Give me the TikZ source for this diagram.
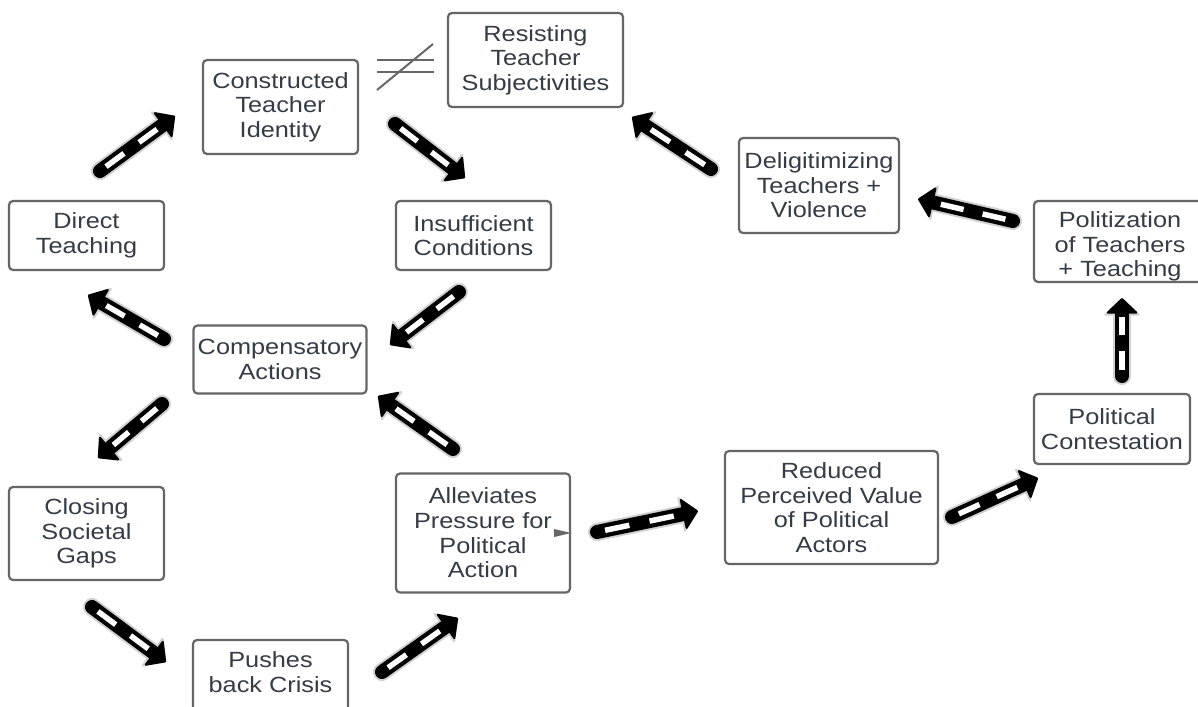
\documentclass[tikz,border=0pt]{standalone}
\usepackage{fontspec}
\setmainfont{Liberation Sans}[FakeStretch=1.15]
\usetikzlibrary{arrows.meta,calc}
\definecolor{boxline}{HTML}{666666}
\definecolor{txt}{HTML}{363C45}
\newcommand{\fatarr}[2]{%
  \draw[halo] (#1) -- (#2);
  \draw[shaft] (#1) -- (#2);
  \draw[stripe] ($(#1)!0.08!(#2)$) -- ($(#1)!0.32!(#2)$);
  \draw[stripe] ($(#1)!0.52!(#2)$) -- ($(#1)!0.76!(#2)$);}
\begin{document}
\begin{tikzpicture}[x=1pt,y=-1pt,
  box/.style={draw=boxline, line width=2.2pt, rounded corners=4pt, fill=white,
    text=txt, align=center, font=\fontsize{22}{24.6}\selectfont, inner sep=0pt},
  label text/.style={text=txt, align=center, font=\fontsize{22}{24.6}\selectfont, inner sep=0pt},
  shaft/.style={black, line width=14pt, line cap=round,
    -{Triangle[length=16pt,width=33pt,line width=2pt,round]}},
  halo/.style={black!18, line width=18pt, line cap=round,
    -{Triangle[length=18pt,width=38pt,line width=2pt,round]}},
  stripe/.style={white, line width=5.5pt, line cap=butt},
  neq/.style={boxline, line width=2pt}]
\useasboundingbox (0,0) rectangle (1198,706);
\clip (0,0) rectangle (1198,706);
\fill[white] (0,0) rectangle (1198,706);

% nodes
\node[box, minimum width=155pt, minimum height=94pt] (cti) at (280.5,107) {Constructed\\Teacher\\Identity};
\node[box, minimum width=175pt, minimum height=94pt] (rts) at (535.5,60) {Resisting\\Teacher\\Subjectivities};
\node[box, minimum width=155pt, minimum height=69pt] (dt) at (86.5,235.5) {Direct\\Teaching};
\node[box, minimum width=155pt, minimum height=69pt] (ic) at (473.5,235.5) {Insufficient\\Conditions};
\node[box, minimum width=160pt, minimum height=95pt] (dtv) at (819,185.5) {Deligitimizing\\Teachers +\\Violence};
\node[box, minimum width=175pt, minimum height=81pt] (pttbox) at (1121.5,241.5) {};
\node[label text] (ptt) at (1120,246.5) {Politization\\of Teachers\\+ Teaching};
\node[box, minimum width=173pt, minimum height=68pt] (ca) at (280,359.5) {Compensatory\\Actions};
\node[box, minimum width=156pt, minimum height=70pt] (pc) at (1112,429) {Political\\Contestation};
\node[box, minimum width=155pt, minimum height=93pt] (csg) at (86.5,533.5) {Closing\\Societal\\Gaps};
\node[box, minimum width=174pt, minimum height=119pt] (alle) at (483,533) {Alleviates\\Pressure for\\Political\\Action};
\node[box, minimum width=213pt, minimum height=113pt] (rpv) at (831.5,507.5) {Reduced\\Perceived Value\\of Political\\Actors};
\node[box, minimum width=155pt, minimum height=80pt] (pbcbox) at (270.5,680) {};
\node[label text] (pbc) at (270.5,672) {Pushes\\back Crisis};

% small pointer on Alleviates
\fill[boxline] ($(alle.east)+(-17,-4)$) -- (alle.east) -- ($(alle.east)+(-17,4)$) -- cycle;

% not-equal sign between Constructed and Resisting
\coordinate (n1) at (377,60);
\coordinate (n2) at (434,60);
\coordinate (n3) at (377,72);
\coordinate (n4) at (434,72);
\coordinate (n5) at (377,90);
\coordinate (n6) at (433,44);
\draw[neq] (n1) -- (n2);
\draw[neq] (n3) -- (n4);
\draw[neq] (n5) -- (n6);

% arrow end points
\coordinate (a1s) at (100,171);  \coordinate (a1e) at (175,116);
\coordinate (a2s) at (395,124);  \coordinate (a2e) at (465,178);
\coordinate (a3s) at (459,292);  \coordinate (a3e) at (390,345);
\coordinate (a4s) at (164,339);  \coordinate (a4e) at (88,295);
\coordinate (a5s) at (162,404);  \coordinate (a5e) at (98,458);
\coordinate (a6s) at (92,607);   \coordinate (a6e) at (166,662);
\coordinate (a7s) at (382,672);  \coordinate (a7e) at (458,618);
\coordinate (a8s) at (453,449);  \coordinate (a8e) at (378,396);
\coordinate (a9s) at (597,532);  \coordinate (a9e) at (698,511);
\coordinate (a10s) at (952,517); \coordinate (a10e) at (1038,478);
\coordinate (a11s) at (1122,376); \coordinate (a11e) at (1122,298);
\coordinate (a12s) at (1013,221); \coordinate (a12e) at (918,199);
\coordinate (a13s) at (711,169); \coordinate (a13e) at (632,117);

\fatarr{a1s}{a1e}
\fatarr{a2s}{a2e}
\fatarr{a3s}{a3e}
\fatarr{a4s}{a4e}
\fatarr{a5s}{a5e}
\fatarr{a6s}{a6e}
\fatarr{a7s}{a7e}
\fatarr{a8s}{a8e}
\fatarr{a9s}{a9e}
\fatarr{a10s}{a10e}
\fatarr{a11s}{a11e}
\fatarr{a12s}{a12e}
\fatarr{a13s}{a13e}
\end{tikzpicture}
\end{document}
